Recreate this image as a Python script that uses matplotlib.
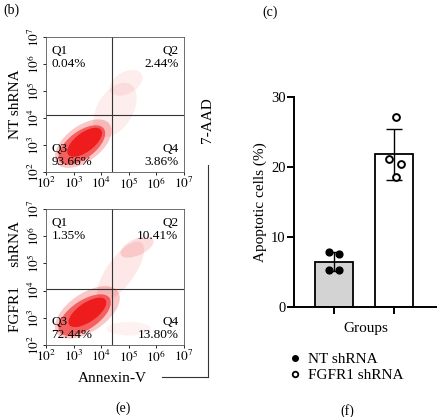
import matplotlib
matplotlib.use("Agg")
import matplotlib.pyplot as plt
from matplotlib.patches import Ellipse
from matplotlib.lines import Line2D

plt.rcParams['font.family'] = ['Liberation Serif', 'DejaVu Serif']
plt.rcParams['font.size'] = 10
plt.rcParams['mathtext.fontset'] = 'stix'

# flow panels (log10 units)
nt_pcts = ["0.04%", "2.44%", "93.66%", "3.86%"]
fg_pcts = ["1.35%", "10.41%", "72.44%", "13.80%"]
nt_gate = (4.4, 4.1)
fg_gate = (4.4, 4.06)
# cloud blobs: (x, y, width, height, angle, alpha)
nt_blobs = [(3.35, 3.05, 2.4, 1.3, 38, 0.25), (3.3, 3.0, 2.0, 1.0, 38, 0.6),
            (3.4, 3.1, 1.5, 0.7, 38, 1.0),
            (4.5, 4.3, 2.2, 1.3, 60, 0.08), (4.9, 5.3, 1.3, 0.8, 30, 0.08)]
fg_blobs = [(3.5, 3.2, 2.7, 1.4, 35, 0.25), (3.4, 3.1, 2.2, 1.05, 35, 0.6),
            (3.5, 3.2, 1.6, 0.7, 35, 1.0),
            (4.7, 4.7, 2.6, 1.0, 55, 0.1), (5.3, 5.6, 1.3, 0.6, 25, 0.15),
            (5.0, 2.6, 1.6, 0.5, 0, 0.06)]

groups = ["NT shRNA", "FGFR1 shRNA"]
means = [6.5, 21.8]
sds = [1.3, 3.7]
pts_nt = [7.8, 7.6, 5.3, 5.3]
pts_fg = [27.2, 21.1, 20.4, 18.6]

W, H = 437, 417
fig = plt.figure(figsize=(W/100, H/100), dpi=100)

def ax_px(l, t, r, b):
    return fig.add_axes([l/W, 1-b/H, (r-l)/W, (b-t)/H])

def flow(ax, pcts, gate, blobs, ylabel):
    for (x, y, w, h, a, al) in blobs:
        ax.add_patch(Ellipse((x, y), w, h, angle=a, color='#ee1c1c', alpha=al, lw=0))
    ax.axvline(gate[0], color='#333', lw=0.8)
    ax.axhline(gate[1], color='#333', lw=0.8)
    ax.set_xlim(2, 7); ax.set_ylim(2, 7)
    t = range(2, 8)
    ax.set_xticks(list(t)); ax.set_yticks(list(t))
    ax.set_xticklabels([f"$10^{i}$" for i in t])
    ax.set_yticklabels([f"$10^{i}$" for i in t], rotation=90, va='center')
    ax.tick_params(length=2, width=0.6, pad=1, labelsize=9.5)
    for s in ax.spines.values():
        s.set_linewidth(0.6); s.set_color('#555')
    kw = dict(transform=ax.transAxes, fontsize=9.5, linespacing=1.1)
    ax.text(0.04, 0.94, f"Q1\n{pcts[0]}", va='top', ha='left', **kw)
    ax.text(0.96, 0.94, f"Q2\n{pcts[1]}", va='top', ha='right', **kw)
    ax.text(0.04, 0.03, f"Q3\n{pcts[2]}", va='bottom', ha='left', **kw)
    ax.text(0.96, 0.03, f"Q4\n{pcts[3]}", va='bottom', ha='right', **kw)
    ax.set_ylabel(ylabel, fontsize=11, labelpad=3)

a1 = ax_px(46, 37, 184, 172)
flow(a1, nt_pcts, nt_gate, nt_blobs, "NT shRNA")
a2 = ax_px(46, 209, 184, 345)
flow(a2, fg_pcts, fg_gate, fg_blobs, "FGFR1     shRNA")

# bracket
fig.add_artist(Line2D([208/W, 208/W], [1-165/H, 1-377/H], color='#333', lw=0.8))
fig.add_artist(Line2D([162/W, 208/W], [1-377/H, 1-377/H], color='#333', lw=0.8))
fig.text(207/W, 1-120/H, "7-AAD", rotation=90, ha='center', va='center', fontsize=11)
fig.text(112/W, 1-378/H, "Annexin-V", ha='center', va='center', fontsize=11)
fig.text(3/W, 1-10/H, "(b)", fontsize=10, va='center')
fig.text(262/W, 1-12/H, "(c)", fontsize=10, va='center')
fig.text(115/W, 1-408/H, "(e)", fontsize=10, va='center')
fig.text(340/W, 1-411/H, "(f)", fontsize=10, va='center')

# bar chart
b = ax_px(294, 97, 437, 307)
x = [0, 1]
b.bar(x, means, width=0.63, color=['#d3d3d3', 'white'], edgecolor='black', lw=1.3, zorder=1)
b.errorbar(x, means, yerr=sds, fmt='none', ecolor='black', elinewidth=1, capsize=6, capthick=1, zorder=2)
b.scatter([-0.08, 0.08, -0.08, 0.08], pts_nt, s=24, color='black', zorder=3)
b.scatter([1.03, 0.92, 1.12, 1.03], pts_fg, s=24, facecolor='white', edgecolor='black', lw=1.4, zorder=3)
b.set_xlim(-0.67, 1.72); b.set_ylim(0, 30)
b.set_yticks([0, 10, 20, 30])
b.set_xticks(x); b.set_xticklabels([])
b.set_xlabel("Groups", fontsize=11, labelpad=5)
b.set_ylabel("Apoptotic cells (%)", fontsize=11, labelpad=3)
b.spines[['top', 'right']].set_visible(False)
b.spines['left'].set_linewidth(1.4); b.spines['bottom'].set_linewidth(1.4)
b.tick_params(width=1.4, length=5, labelsize=10.5, pad=1)
h = [Line2D([], [], marker='o', ls='', color='black', ms=4),
     Line2D([], [], marker='o', ls='', mfc='white', mec='black', mew=1.3, ms=4)]
fig.legend(h, groups, loc='upper left', bbox_to_anchor=(280/W, 1-345/H), frameon=False,
           fontsize=11, handletextpad=0.3, labelspacing=0.15, handlelength=1, borderpad=0)

fig.savefig("out.png", dpi=100)
